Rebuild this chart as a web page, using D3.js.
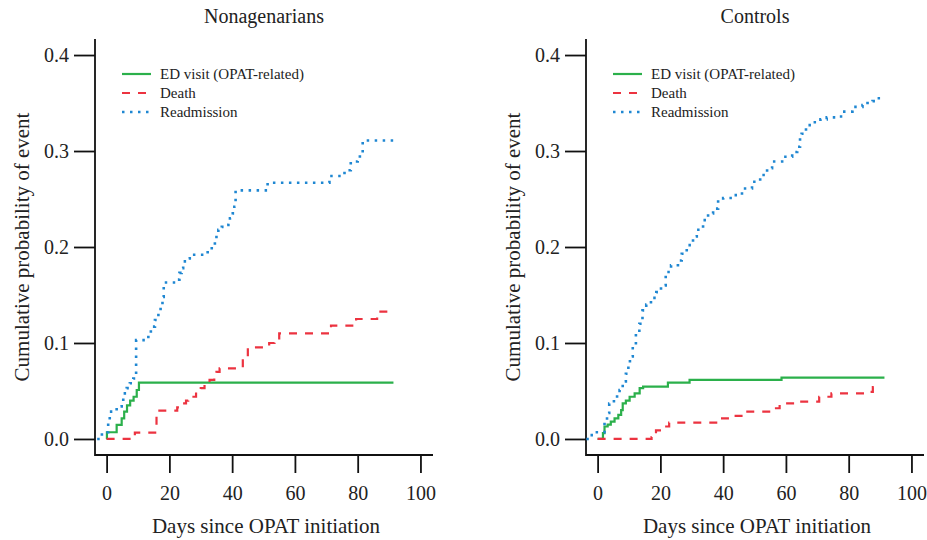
<!DOCTYPE html>
<html lang="en">
  <head>
    <meta charset="UTF-8" />
    <title>Cumulative probability of event</title>
    <script src="https://d3js.org/d3.v7.min.js"></script>
    <style>
      body {
        margin: 0;
        background: #fff;
      }
      svg text {
        font-family: 'Liberation Serif', 'DejaVu Serif', serif;
        fill: #222;
      }
    </style>
  </head>
  <body>
    <div class="chart"></div>
    <script>
      // step events: [day, cumulative probability]
      const nonaED = [[0, 0], [0.1, 0.007], [3.2, 0.0146], [4.8, 0.0215], [5.6, 0.0285], [6.5, 0.035],
        [7.5, 0.04], [8.6, 0.044], [9.6, 0.051], [10.3, 0.0587], [91.4, 0.0587]];
      const nonaDeath = [[0, 0], [9, 0.0066], [15.9, 0.0295], [22.5, 0.033], [24, 0.037], [25.3, 0.04],
        [26, 0.044], [28.5, 0.051], [30, 0.053], [31.2, 0.058], [32.8, 0.0615], [34.3, 0.0667],
        [35, 0.07], [36, 0.0736], [43.4, 0.082], [45, 0.0955], [51.8, 0.1], [53.5, 0.103],
        [55, 0.11], [71.5, 0.118], [79.5, 0.125], [86.2, 0.1326], [89.5, 0.1326]];
      const nonaReadmit = [[-3, 0], [-1.5, 0.007], [0.5, 0.02], [1, 0.0285], [3.2, 0.034], [4.8, 0.039],
        [5.3, 0.0475], [6.4, 0.053], [7.4, 0.058], [8.5, 0.063], [9.2, 0.067], [9.4, 0.103],
        [13.3, 0.108], [14.1, 0.117], [15.4, 0.124], [16.5, 0.133], [17.2, 0.14], [17.8, 0.148],
        [18.2, 0.163], [22.5, 0.166], [23.2, 0.173], [23.9, 0.178], [24.4, 0.185], [25.8, 0.188],
        [26.5, 0.192], [32.2, 0.197], [33.5, 0.202], [34.5, 0.207], [35, 0.214], [35.6, 0.218],
        [36.7, 0.221], [38, 0.223], [38.8, 0.225], [39.3, 0.23], [40.2, 0.235], [40.7, 0.242],
        [41.1, 0.259], [51.3, 0.267], [71, 0.274], [75.8, 0.28], [77.8, 0.289], [80, 0.291],
        [80.7, 0.297], [81.6, 0.311], [91.5, 0.311]];

      const ctrlED = [[0, 0], [1.7, 0.006], [2.2, 0.013], [3.2, 0.015], [4.2, 0.018], [5.4, 0.0215],
        [6.6, 0.025], [7.5, 0.03], [8, 0.037], [9, 0.04], [10.2, 0.044], [11.8, 0.0475],
        [13.4, 0.053], [14.5, 0.0545], [22.4, 0.0587], [29.3, 0.0615], [58.6, 0.064], [91.4, 0.064]];
      const ctrlDeath = [[0, 0], [17.2, 0.002], [18.6, 0.009], [21.2, 0.013], [22.8, 0.017],
        [38.4, 0.0215], [41.5, 0.024], [47.2, 0.0285], [55.3, 0.032], [58, 0.037], [63.2, 0.039],
        [70.6, 0.044], [74.5, 0.0475], [85, 0.049], [87.7, 0.054], [90, 0.054]];
      const ctrlReadmit = [[-3.6, 0], [-2.6, 0.004], [-1, 0.007], [2.2, 0.018], [3, 0.027], [3.7, 0.037],
        [5.2, 0.042], [6.2, 0.046], [7, 0.051], [8, 0.06], [9, 0.068], [9.8, 0.077], [10.3, 0.086],
        [11.2, 0.096], [12.2, 0.11], [13.3, 0.12], [14.3, 0.134], [15.5, 0.14], [17, 0.147],
        [18.7, 0.153], [20.2, 0.16], [21.7, 0.174], [23.4, 0.181], [25.6, 0.186], [26.8, 0.193],
        [28.4, 0.202], [30.4, 0.211], [31.6, 0.218], [33.6, 0.228], [35.2, 0.235], [36.8, 0.24],
        [38.4, 0.249], [40, 0.251], [43, 0.254], [46, 0.261], [49.2, 0.268], [51.8, 0.275],
        [54, 0.282], [55.6, 0.289], [58.8, 0.294], [62, 0.299], [63.6, 0.3045], [64.5, 0.312],
        [65, 0.318], [66.4, 0.327], [68.5, 0.33], [71, 0.333], [73, 0.335], [76, 0.336],
        [78, 0.341], [81.2, 0.346], [84.4, 0.348], [86, 0.35], [87.6, 0.352], [89, 0.355],
        [90.3, 0.358], [90.8, 0.358]];

      const panelTitles = ["Nonagenarians", "Controls"];
      const seriesNames = ["ED visit (OPAT-related)", "Death", "Readmission"];
      const xTicks = [0, 20, 40, 60, 80, 100];
      const yTicks = [0, 0.1, 0.2, 0.3, 0.4];

      const colors = ["#2bb04b", "#ec3340", "#1f87d2"];
      const dashes = [null, "8,8", "2.5,5.5"];
      const widths = [2.2, 2.2, 2.6];

      const width = 927, height = 540;
      const svg = d3.select(".chart").append("svg")
        .attr("width", width)
        .attr("height", height);

      const panels = [
        { title: panelTitles[0], offset: 0, series: [nonaED, nonaDeath, nonaReadmit] },
        { title: panelTitles[1], offset: 491, series: [ctrlED, ctrlDeath, ctrlReadmit] }
      ];

      panels.forEach(p => {
        const ox = p.offset;
        const x = d3.scaleLinear().domain([-3.7, 104]).range([95 + ox, 433 + ox]);
        const y = d3.scaleLinear().domain([-0.0167, 0.4167]).range([455, 39]);
        const g = svg.append("g");

        // L-shaped frame
        g.append("path")
          .attr("d", `M${x(-3.7)},${y(0.4167)}V${y(-0.0167)}H${x(104)}`)
          .attr("fill", "none")
          .attr("stroke", "#111")
          .attr("stroke-width", 1.8);

        const xAxis = g.append("g")
          .attr("transform", `translate(0,455)`)
          .call(d3.axisBottom(x).tickValues(xTicks).tickSize(18).tickSizeOuter(0).tickFormat(d3.format("d")));
        xAxis.select(".domain").remove();
        xAxis.selectAll("line").attr("stroke", "#111").attr("stroke-width", 1.8);
        xAxis.selectAll("text").attr("y", 45).attr("dy", null)
          .attr("font-size", 20).attr("fill", "#222");

        const yAxis = g.append("g")
          .attr("transform", `translate(${x(-3.7)},0)`)
          .call(d3.axisLeft(y).tickValues(yTicks).tickSize(21).tickSizeOuter(0).tickFormat(d3.format(".1f")));
        yAxis.select(".domain").remove();
        yAxis.selectAll("line").attr("stroke", "#111").attr("stroke-width", 1.8);
        yAxis.selectAll("text").attr("x", -26).attr("font-size", 20).attr("fill", "#222");

        // titles
        g.append("text")
          .attr("x", (x(-3.7) + x(104)) / 2)
          .attr("y", 23)
          .attr("text-anchor", "middle")
          .attr("font-size", 20)
          .text(p.title);
        g.append("text")
          .attr("x", (x(-3.7) + x(104)) / 2 + 2)
          .attr("y", 533)
          .attr("text-anchor", "middle")
          .attr("font-size", 21)
          .text("Days since OPAT initiation");
        g.append("text")
          .attr("transform", `translate(${29 + ox},247) rotate(-90)`)
          .attr("text-anchor", "middle")
          .attr("font-size", 21)
          .text("Cumulative probability of event");

        // curves
        const line = d3.line()
          .x(d => x(d[0]))
          .y(d => y(d[1]))
          .curve(d3.curveStepAfter);
        p.series.forEach((s, i) => {
          g.append("path")
            .datum(s)
            .attr("d", line)
            .attr("fill", "none")
            .attr("stroke", colors[i])
            .attr("stroke-width", widths[i])
            .attr("stroke-dasharray", dashes[i]);
        });

        // legend
        seriesNames.forEach((name, i) => {
          const ly = 74 + i * 19;
          g.append("line")
            .attr("x1", 122 + ox).attr("x2", 151 + ox)
            .attr("y1", ly).attr("y2", ly)
            .attr("stroke", colors[i])
            .attr("stroke-width", widths[i])
            .attr("stroke-dasharray", dashes[i]);
          g.append("text")
            .attr("x", 160 + ox)
            .attr("y", ly + 5)
            .attr("font-size", 15)
            .text(name);
        });
      });
    </script>
  </body>
</html>
